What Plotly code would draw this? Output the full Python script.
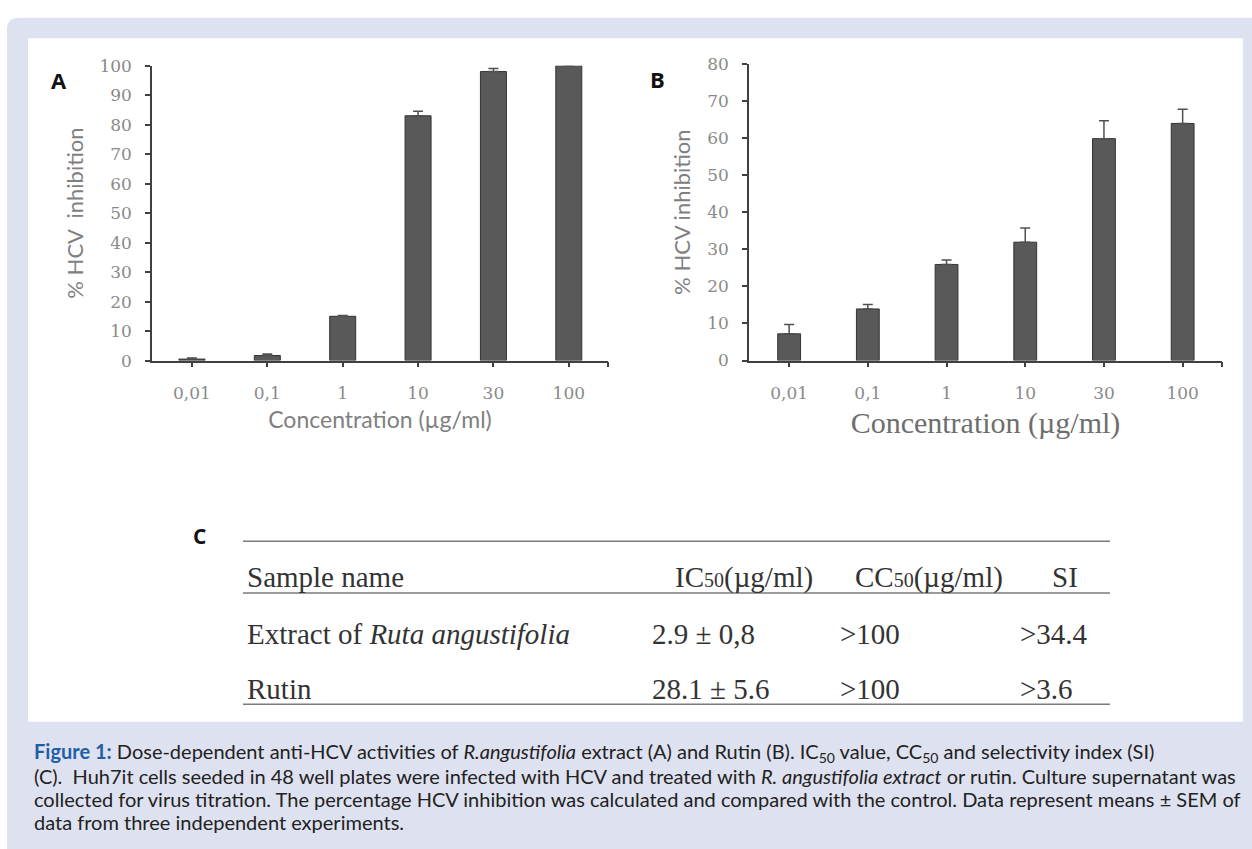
import plotly.graph_objects as go

W, H = 1252, 849

# ---------------- data ----------------
conc_labels = ["0,01", "0,1", "1", "10", "30", "100"]
a_values = [0.5, 1.7, 15.0, 83.0, 98.0, 100.0]
a_errors = [0.4, 0.5, 0.3, 1.5, 1.0, 0.0]
b_values = [7.2, 13.9, 25.9, 31.9, 59.8, 63.9]
b_errors = [2.5, 1.2, 1.2, 3.8, 4.8, 3.8]

table_header = ["Sample name", "IC<span style='font-size:20px'>50</span>(µg/ml)",
                "CC<span style='font-size:20px'>50</span>(µg/ml)", "SI"]
sample_names = ["Extract of <i>Ruta angustifolia</i>", "Rutin"]
ic50_values = ["2.9 ± 0,8", "28.1 ± 5.6"]
cc50_values = [">100", ">100"]
si_values = [">34.4", ">3.6"]

caption_lines = [
    "<b><span style='color:#1f5fa6'>Figure 1:</span></b> Dose-dependent anti-HCV activities of <i>R.angustifolia</i> extract (A) and Rutin (B). IC<sub>50</sub> value, CC<sub>50</sub> and selectivity index (SI)",
    "(C).  Huh7it cells seeded in 48 well plates were infected with HCV and treated with <i>R. angustifolia extract</i> or rutin. Culture supernatant was",
    "collected for virus titration. The percentage HCV inhibition was calculated and compared with the control. Data represent means ± SEM of",
    "data from three independent experiments.",
]


def px(x):
    return x / W


def py(y):
    return 1 - y / H


BAR = "#595959"
AX = "#404040"
TICKC = "#8a8a8a"
TITC = "#808080"

fig = go.Figure()
xs = list(range(len(conc_labels)))

fig.add_trace(go.Bar(
    x=xs, y=a_values, width=0.345, xaxis="x", yaxis="y",
    marker=dict(color=BAR, line=dict(color="#333333", width=1)),
    error_y=dict(type="data", symmetric=False, array=a_errors,
                 arrayminus=[0] * len(a_errors), color="#505050",
                 thickness=1.5, width=5),
    showlegend=False, hoverinfo="skip"))

fig.add_trace(go.Bar(
    x=xs, y=b_values, width=0.29, xaxis="x2", yaxis="y2",
    marker=dict(color=BAR, line=dict(color="#333333", width=1)),
    error_y=dict(type="data", symmetric=False, array=b_errors,
                 arrayminus=[0] * len(b_errors), color="#505050",
                 thickness=1.5, width=5),
    showlegend=False, hoverinfo="skip"))

tickfont = dict(family="DejaVu Serif", size=17, color=TICKC)


def xaxis_cfg(x0, x1, anchor, r0, r1, title, tfont, standoff):
    return dict(domain=[px(x0), px(x1)], range=[r0, r1], anchor=anchor,
                tickmode="array", tickvals=xs, ticktext=conc_labels,
                ticks="outside", ticklen=5, tickwidth=1.5, tickcolor=AX,
                minor=dict(tickmode="array", tickvals=[r1 - 0.005], ticks="outside",
                           ticklen=5, tickwidth=1.5, tickcolor=AX, showgrid=False),
                showline=True, linecolor=AX, linewidth=1.5, showgrid=False,
                zeroline=False, tickfont=tickfont, ticklabelstandoff=11,
                title=dict(text=title, font=tfont, standoff=standoff),
                fixedrange=True)


def yaxis_cfg(ytop, top, anchor, title, standoff):
    return dict(domain=[py(359), py(ytop)], range=[0, top], anchor=anchor,
                dtick=10, ticks="outside", ticklen=5, tickwidth=1.5,
                tickcolor=AX, showline=True, linecolor=AX, linewidth=1.5,
                showgrid=False, zeroline=False, tickfont=tickfont,
                ticklabelstandoff=10,
                title=dict(text=title, font=dict(family="Lato", size=22, color=TITC),
                           standoff=standoff),
                fixedrange=True)


shapes = [
    # lavender frame
    dict(type="path", xref="paper", yref="paper",
         path=f"M {px(7)},{py(870)} L {px(7)},{py(20)} Q {px(7)},{py(8)} {px(19)},{py(8)} "
              f"L {px(1270)},{py(8)} L {px(1270)},{py(870)} Z",
         fillcolor="#dee1ef", line=dict(width=0), layer="below"),
    # white panel
    dict(type="rect", xref="paper", yref="paper", x0=px(28), x1=px(1243),
         y0=py(729), y1=py(29), fillcolor="white", line=dict(width=0), layer="below"),
]

# table rules
for yy in (544, 597, 711):
    shapes.append(dict(type="line", xref="paper", yref="paper", x0=px(243), x1=px(1110),
                       y0=py(yy), y1=py(yy), line=dict(color="#7a7a7a", width=1.5)))

ann = []


def add_text(x, y, text, size, family, color, xanchor="center", angle=0):
    ann.append(dict(x=px(x), y=py(y), xref="paper", yref="paper", text=text,
                    showarrow=False, xanchor=xanchor, yanchor="middle", textangle=angle,
                    font=dict(size=size, family=family, color=color)))


# panel letters
add_text(59, 72, "<b>A</b>", 22, "Open Sans", "#111111")
add_text(657, 71, "<b>B</b>", 22, "Open Sans", "#111111")
add_text(199, 539, "<b>C</b>", 21, "Open Sans", "#111111")

# table
TF = "Liberation Serif"
TC = "#333333"
TS = 29
header_pos = [(245, "left"), (815, "right"), (1005, "right"), (1065, "center")]
for (hx, anc), ht in zip(header_pos, table_header):
    add_text(hx, 581, ht, TS, TF, TC, xanchor=anc)
value_x = [245, 650, 838, 1018]
row_y = [639, 695]
for i, ry in enumerate(row_y):
    row = [sample_names[i], ic50_values[i], cc50_values[i], si_values[i]]
    for vx, vt in zip(value_x, row):
        add_text(vx, ry, vt, TS, TF, TC, xanchor="left")

# caption
cap_y = [760, 784, 808, 832]
for cy, line in zip(cap_y, caption_lines):
    add_text(32, cy, line, 20, "Lato", "#222222", xanchor="left")

fig.update_layout(
    width=W, height=H, margin=dict(l=0, r=0, t=0, b=0),
    paper_bgcolor="white", plot_bgcolor="rgba(0,0,0,0)",
    xaxis=xaxis_cfg(152, 608, "y", -0.53, 5.52, "Concentration (µg/ml)",
                    dict(family="Lato", size=23, color=TITC), 10),
    yaxis=yaxis_cfg(57, 100, "x", "% HCV  inhibition", 10),
    xaxis2=xaxis_cfg(749, 1222, "y2", -0.51, 5.50, "Concentration (µg/ml)",
                     dict(family="Liberation Serif", size=30, color="#6e6e6e"), 10),
    yaxis2=yaxis_cfg(55, 80, "x2", "% HCV inhibition", 10),
    shapes=shapes, annotations=ann,
)

post = (
    "var s=document.documentElement.style;s.margin='0';s.padding='0';s.overflow='hidden';"
    "var b=document.body.style;b.margin='0';b.padding='0';b.overflow='hidden';b.height='849px';"
    "var d=document.getElementById('{plot_id}');d.style.position='fixed';"
    "d.style.left='0px';d.style.top='0px';"
)
fig.write_html("out.html", config={"displayModeBar": False}, post_script=post)
